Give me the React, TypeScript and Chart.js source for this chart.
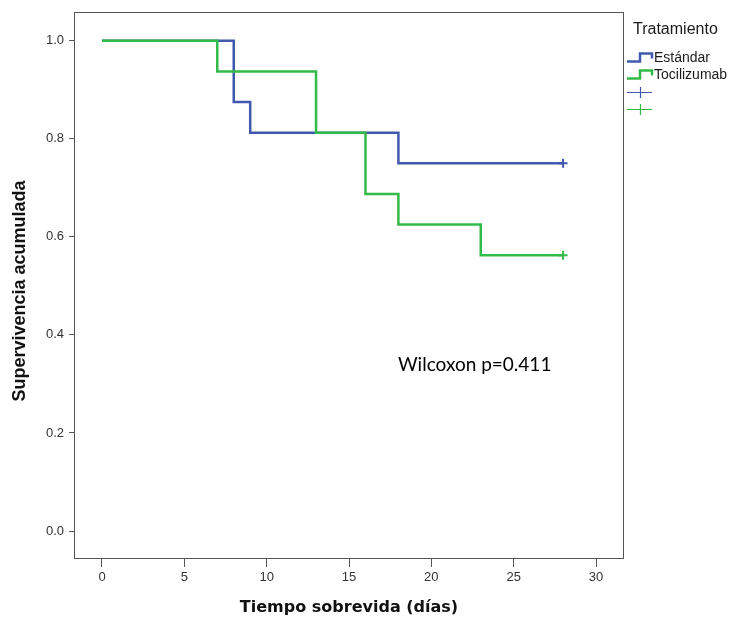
import React, { useEffect, useRef } from "react";
import { Chart, registerables } from "chart.js";

Chart.register(...registerables);

// ---- data ----
const xTickValues = [0, 5, 10, 15, 20, 25, 30];
const yTickValues = [0, 0.2, 0.4, 0.6, 0.8, 1.0];

const estandarTimes = [0, 8, 9, 18, 28];
const estandarSurv = [1.0, 0.875, 0.8125, 0.75, 0.75];
const estandarCensorTimes = [28];
const estandarCensorSurv = [0.75];

const tociTimes = [0, 7, 13, 16, 18, 23, 28];
const tociSurv = [1.0, 0.9375, 0.8125, 0.6875, 0.625, 0.5625, 0.5625];
const tociCensorTimes = [28];
const tociCensorSurv = [0.5625];

const seriesNames = ["Estándar", "Tocilizumab"];
const legendTitle = "Tratamiento";
const xTitle = "Tiempo sobrevida (días)";
const yTitle = "Supervivencia acumulada";
const annotationText = "Wilcoxon p=0.411";

const BLUE = "#4059ae";
const GREEN = "#33bb48";
const FRAME = "#555555";

const toPoints = (xs: number[], ys: number[]) => xs.map((x, i) => ({ x, y: ys[i] }));

const decorPlugin = {
  id: "decor",
  afterDraw(chart: any) {
    const ctx = chart.ctx as CanvasRenderingContext2D;
    const a = chart.chartArea;
    ctx.save();
    // frame
    ctx.strokeStyle = FRAME;
    ctx.lineWidth = 1;
    ctx.strokeRect(Math.round(a.left) + 0.5, Math.round(a.top) - 0.5, Math.round(a.right - a.left) - 1, Math.round(a.bottom - a.top) + 1);

    // axis titles
    ctx.fillStyle = "#111";
    ctx.textAlign = "center";
    ctx.textBaseline = "middle";
    ctx.font = "bold 16px 'DejaVu Sans'";
    ctx.fillText(xTitle, 349, 608);

    ctx.save();
    ctx.translate(20, 291);
    ctx.rotate(-Math.PI / 2);
    ctx.font = "bold 18px 'Liberation Sans'";
    ctx.fillText(yTitle, 0, 0);
    ctx.restore();

    // annotation
    ctx.textAlign = "left";
    ctx.fillStyle = "#000";
    ctx.font = "19px Lato";
    ctx.fillText(annotationText, 398, 365);

    // legend
    ctx.fillStyle = "#1a1a1a";
    ctx.font = "16px 'Liberation Sans'";
    ctx.fillText(legendTitle, 633, 30);

    const colors = [BLUE, GREEN];
    const rows = [58, 75];
    ctx.font = "14px 'Liberation Sans'";
    rows.forEach((yc, i) => {
      ctx.strokeStyle = colors[i];
      ctx.lineWidth = 2.5;
      ctx.beginPath();
      ctx.moveTo(627, yc + 3.5);
      ctx.lineTo(640, yc + 3.5);
      ctx.lineTo(640, yc - 4.5);
      ctx.lineTo(652, yc - 4.5);
      ctx.lineTo(652, yc + 0.5);
      ctx.stroke();
      ctx.fillStyle = "#1a1a1a";
      ctx.fillText(seriesNames[i], 654, yc + 0.5);
    });
    const crossRows = [92, 109];
    crossRows.forEach((yc, i) => {
      ctx.strokeStyle = colors[i];
      ctx.lineWidth = 1.2;
      ctx.beginPath();
      ctx.moveTo(627, yc + 0.5);
      ctx.lineTo(652, yc + 0.5);
      ctx.moveTo(640.5, yc - 5);
      ctx.lineTo(640.5, yc + 6);
      ctx.stroke();
    });
    ctx.restore();
  },
};

export default function App() {
  const ref = useRef<HTMLCanvasElement | null>(null);
  useEffect(() => {
    if (!ref.current) return;
    const chart = new Chart(ref.current, {
      type: "line",
      data: {
        datasets: [
          {
            label: seriesNames[1],
            data: toPoints(tociTimes, tociSurv),
            borderColor: GREEN,
            borderWidth: 2.5,
            pointRadius: 0,
            stepped: true,
            fill: false,
            order: 1,
          },
          {
            label: seriesNames[0],
            data: toPoints(estandarTimes, estandarSurv),
            borderColor: BLUE,
            borderWidth: 2.5,
            pointRadius: 0,
            stepped: true,
            fill: false,
            order: 2,
          },
          {
            label: seriesNames[1] + " censor",
            data: toPoints(tociCensorTimes, tociCensorSurv),
            borderColor: GREEN,
            backgroundColor: GREEN,
            showLine: false,
            pointStyle: "cross",
            pointRadius: 4.5,
            pointBorderWidth: 2,
            order: 0,
          },
          {
            label: seriesNames[0] + " censor",
            data: toPoints(estandarCensorTimes, estandarCensorSurv),
            borderColor: BLUE,
            backgroundColor: BLUE,
            showLine: false,
            pointStyle: "cross",
            pointRadius: 4.5,
            pointBorderWidth: 2,
            order: 0,
          },
        ],
      },
      options: {
        animation: false,
        responsive: false,
        devicePixelRatio: 1,
        layout: { padding: { left: 0, right: 106, top: 12, bottom: 0 } },
        plugins: { legend: { display: false }, tooltip: { enabled: false } },
        scales: {
          x: {
            type: "linear",
            min: -1.7,
            max: 31.7,
            afterBuildTicks: (s: any) => {
              s.ticks = xTickValues.map((v) => ({ value: v }));
            },
            afterFit: (s: any) => {
              s.height = 59;
            },
            grid: { display: true, drawOnChartArea: false, drawTicks: true, tickLength: 9, color: FRAME },
            border: { display: false },
            ticks: {
              padding: 3,
              color: "#333",
              font: { family: "'Liberation Sans'", size: 13 },
              maxRotation: 0,
              autoSkip: false,
              callback: (v: any) => String(v),
            },
          },
          y: {
            type: "linear",
            min: -0.055,
            max: 1.057,
            afterBuildTicks: (s: any) => {
              s.ticks = yTickValues.map((v) => ({ value: v }));
            },
            afterFit: (s: any) => {
              s.width = 74;
            },
            grid: { display: true, drawOnChartArea: false, drawTicks: true, tickLength: 5, color: FRAME },
            border: { display: false },
            ticks: {
              padding: 5,
              color: "#333",
              font: { family: "'Liberation Sans'", size: 13 },
              autoSkip: false,
              callback: (v: any) => Number(v).toFixed(1),
            },
          },
        },
      },
      plugins: [decorPlugin],
    } as any);
    return () => chart.destroy();
  }, []);
  return (
    <div style={{ position: "absolute", left: 0, top: 0, width: 730, height: 617, background: "#fff" }}>
      <canvas ref={ref} width={730} height={617} style={{ display: "block", width: 730, height: 617 }} />
    </div>
  );
}
